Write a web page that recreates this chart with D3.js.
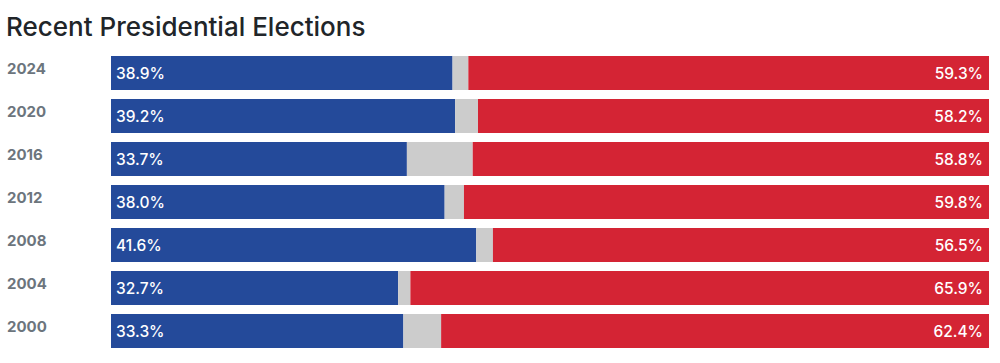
<!DOCTYPE html>
<html>
<head>
  <style>
  body {
    margin: 0;
    background: #fff;
    font-family: Inter, "Helvetica Neue", sans-serif;
  }
  .year {
    font-weight: 700;
    font-size: 15px;
    fill: #6c757d;
  }
  .pct {
    font-size: 15.5px;
    font-weight: 500;
    fill: #fff;
  }
  .title {
    font-size: 26px;
    font-weight: 500;
    fill: #212529;
  }
  </style>
</head>
<body>
  <div id="chart"></div>
  <script src="https://d3js.org/d3.v7.min.js"></script>
  <script>
  var years = ["2024", "2020", "2016", "2012", "2008", "2004", "2000"];
  var dem = [38.9, 39.2, 33.7, 38.0, 41.6, 32.7, 33.3];
  var rep = [59.3, 58.2, 58.8, 59.8, 56.5, 65.9, 62.4];

  var data = years.map(function(y, i) {
    return {year: y, dem: dem[i], rep: rep[i], other: 100 - dem[i] - rep[i]};
  });

  var width = 1000, height = 363;

  var svg = d3.select("#chart").append("svg")
      .attr("width", width)
      .attr("height", height);

  svg.append("text")
      .attr("class", "title")
      .attr("x", 6)
      .attr("y", 36)
      .text("Recent Presidential Elections");

  var x = d3.scaleLinear()
    .domain([0, 100])
    .range([111, 989]);

  // 43px step, 34px bars
  var y = d3.scaleBand()
    .domain(years)
    .range([56, 56 + 43 * years.length - 9])
    .paddingInner(9 / 43);

  var row = svg.selectAll("g.row")
      .data(data)
    .enter().append("g")
      .attr("class", "row")
      .attr("transform", function(d){ return "translate(0," + y(d.year) + ")"; });

  row.append("text")
      .attr("class", "year")
      .attr("x", 7)
      .attr("y", 18)
      .text(function(d){ return d.year; });

  row.append("rect")
      .attr("x", x(0))
      .attr("width", function(d){ return x(d.dem) - x(0); })
      .attr("height", y.bandwidth())
      .style("fill", "#244a9a");

  row.append("rect")
      .attr("x", function(d){ return x(d.dem); })
      .attr("width", function(d){ return x(d.dem + d.other) - x(d.dem); })
      .attr("height", y.bandwidth())
      .style("fill", "#cccccc");

  row.append("rect")
      .attr("x", function(d){ return x(d.dem + d.other); })
      .attr("width", function(d){ return x(100) - x(d.dem + d.other); })
      .attr("height", y.bandwidth())
      .style("fill", "#d42434");

  row.append("text")
      .attr("class", "pct")
      .attr("x", x(0) + 5)
      .attr("y", 23)
      .text(function(d){ return d.dem.toFixed(1) + "%"; });

  row.append("text")
      .attr("class", "pct")
      .attr("x", x(100) - 6)
      .attr("y", 23)
      .style("text-anchor", "end")
      .text(function(d){ return d.rep.toFixed(1) + "%"; });
  </script>
</body>
</html>
